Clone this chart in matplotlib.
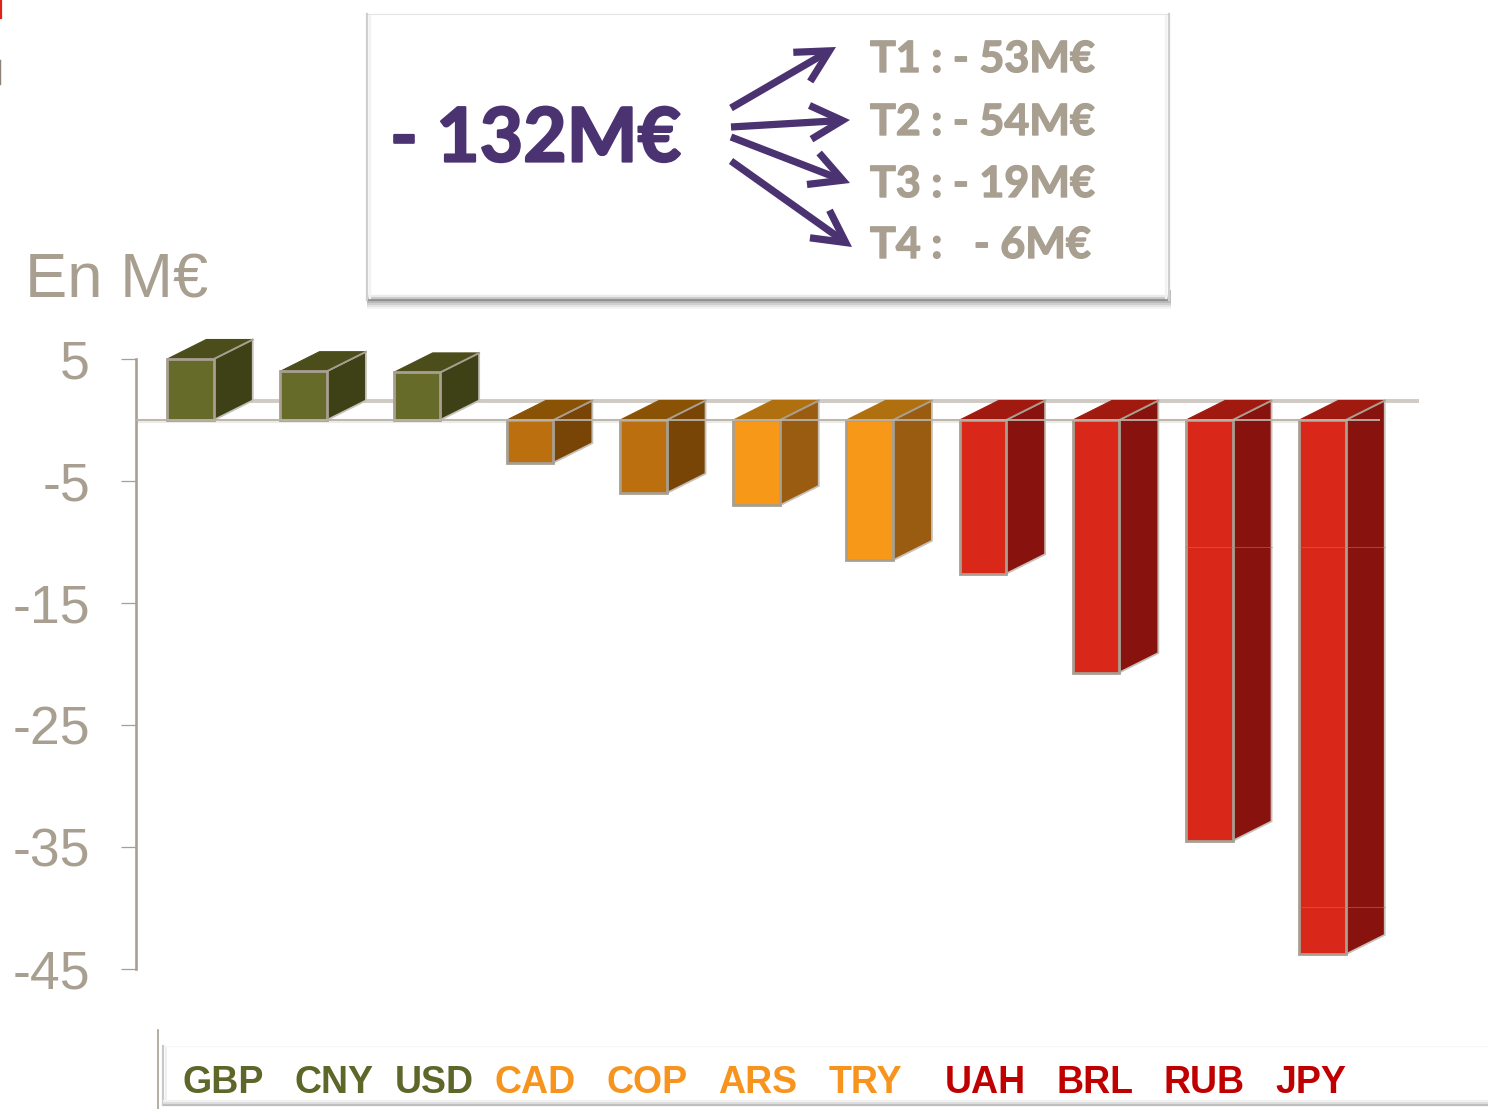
import matplotlib
matplotlib.use('Agg')
import matplotlib.pyplot as plt
import matplotlib.patheffects as pe
from matplotlib.patches import Polygon, Rectangle

W, H = 1488, 1109
DPI = 100

currencies = ['GBP', 'CNY', 'USD', 'CAD', 'COP', 'ARS', 'TRY', 'UAH', 'BRL', 'RUB', 'JPY']
values = [5.0, 4.0, 3.9, -3.5, -6.0, -7.0, -11.5, -12.6, -20.7, -34.5, -43.8]
groups = ['g', 'g', 'g', 'd', 'd', 'o', 'o', 'r', 'r', 'r', 'r']
y_ticks = [5, -5, -15, -25, -35, -45]
y_tick_labels = ['5', '-5', '-15', '-25', '-35', '-45']
total_label = '- 132M€'
quarter_labels = ['T1 : - 53M€', 'T2 : - 54M€', 'T3 : - 19M€', 'T4 :   - 6M€']

GREY = '#A89F91'
PURPLE = '#4B3270'
# front, side, top
palette = {'g': ('#666B2A', '#3E4116', '#4B4D1B'),
           'd': ('#BB6F0E', '#784506', '#8A5205'),
           'o': ('#F79818', '#9A5C10', '#B0700F'),
           'r': ('#D9271A', '#88130E', '#A11A10')}
label_colors = {'g': '#5F662A', 'd': '#F7941D', 'o': '#F7941D', 'r': '#C00000'}
label_x = [223, 333.5, 434, 535, 647, 758, 865, 985, 1095, 1204.5, 1311]

fig = plt.figure(figsize=(W / DPI, H / DPI), dpi=DPI)

# page overlay in pixels, for the box, the arrows and the label strip
page = fig.add_axes([0, 0, 1, 1], zorder=0)
page.set_xlim(0, W)
page.set_ylim(H, 0)
page.axis('off')

# chart axes: 1 unit = 12.2 px, zero at y=420, first bar centre at x=190.5
step = 113.2
top_px, bottom_px = 325, 980
left_px, right_px = 136, 1440
ax = fig.add_axes([left_px / W, 1 - bottom_px / H, (right_px - left_px) / W, (bottom_px - top_px) / H], zorder=2)
ax.patch.set_alpha(0)
ax.set_xlim((left_px - 190.5) / step, (right_px - 190.5) / step)
ax.set_ylim((420 - bottom_px) / 12.2, (420 - top_px) / 12.2)

bar_w = 46.5 / step
dx = 39 / step
dy = 19.5 / 12.2

# back wall and floor lines
ax.plot([0.0, (1419 - 190.5) / step], [dy, dy], color='#CFCAC3', lw=2.8, zorder=1, solid_capstyle='butt')

for i, (v, g) in enumerate(zip(values, groups)):
    front, side, top = palette[g]
    x0, x1 = i - bar_w / 2, i + bar_w / 2
    hi = max(v, 0)
    lo = min(v, 0)
    ax.add_patch(Polygon([(x1, lo), (x1 + dx, lo + dy), (x1 + dx, hi + dy), (x1, hi)], fc=side, ec='#C6C1B8', lw=1.3, zorder=3))
    ax.add_patch(Polygon([(x0, hi), (x0 + dx, hi + dy), (x1 + dx, hi + dy), (x1, hi)], fc=top, ec=top, lw=0.8, zorder=3))
    ax.plot([x1, x1 + dx], [hi, hi + dy], color=GREY, lw=1.3, zorder=4)
    ax.bar(i, v, width=bar_w, color=front, edgecolor=GREY, linewidth=2.0, zorder=4)

ax.plot([(136 - 190.5) / step, (1380 - 190.5) / step], [-0.12, -0.12], color='#EDEBE8', lw=3, zorder=2, solid_capstyle='butt')
ax.plot([(136 - 190.5) / step, (1380 - 190.5) / step], [0, 0], color='#B9B2A7', lw=1.3, zorder=5, solid_capstyle='butt')

# faint gridlines showing through the tallest bars
for yv, bars in [(-10.4, [9, 10]), (-39.9, [10])]:
    for b in bars:
        ax.plot([b - bar_w / 2, b + bar_w / 2 + dx], [yv, yv], color='#E0675C', lw=0.6, alpha=0.6, zorder=6)

for s in ['top', 'right', 'bottom']:
    ax.spines[s].set_visible(False)
ax.spines['left'].set_color(GREY)
ax.spines['left'].set_linewidth(1.9)
ax.spines['left'].set_bounds(-45, 5)
ax.set_xticks([])
ax.set_yticks(y_ticks)
ax.set_yticklabels(y_tick_labels)
ax.tick_params(axis='y', length=11, width=0.9, color=GREY, labelcolor=GREY, pad=22, labelsize=38.5)
for t in ax.get_yticklabels():
    t.set_fontfamily('Liberation Sans')

page.text(25, 281, 'En M€', fontsize=45.5, color=GREY, family='Liberation Sans', va='center', ha='left')

# scraps of the slide cut off at the left edge
page.plot([0.8, 0.8], [0, 18], color='#E0201B', lw=1.6)
page.plot([0.4, 0.4], [60, 84], color='#8E8276', lw=1.0)

# summary box, soft shadow built from stacked bands
for off, alpha in [(9, 0.10), (7, 0.18), (5, 0.28), (3, 0.40)]:
    page.add_patch(Rectangle((367, 290), 804, 10 + off, fc='#9A9A9A', ec='none', alpha=alpha))
page.add_patch(Rectangle((367, 14), 802, 286, fc='white', ec='#E4E4E4', lw=0.8))
for off, col in [(0, '#8F8F8F'), (-2, '#C8C8C8'), (-4, '#EBEBEB')]:
    page.plot([367, 1169], [300 + off, 300 + off], color=col, lw=1.6, solid_capstyle='butt')
page.plot([367, 367], [14, 300], color='#CFCFCF', lw=1.6)
page.plot([370, 370], [16, 298], color='#F2F2F2', lw=1.6)
page.plot([1169, 1169], [14, 300], color='#CFCFCF', lw=1.6)
page.plot([1166, 1166], [16, 298], color='#F2F2F2', lw=1.6)
page.text(390, 140, total_label, fontsize=54, fontweight='bold', family='Lato', color=PURPLE, va='center', ha='left',
          path_effects=[pe.withStroke(linewidth=1.6, foreground=PURPLE)])

arrow_starts = [(731, 108), (731, 127), (731, 137), (731, 161)]
arrow_ends = [(836, 47), (850, 120), (850, 183), (852, 247)]
for st, en in zip(arrow_starts, arrow_ends):
    page.annotate('', xy=en, xytext=st,
                  arrowprops=dict(arrowstyle='->,head_length=0.85,head_width=0.45', color=PURPLE, lw=5.2,
                                  mutation_scale=27, shrinkA=0, shrinkB=0, capstyle='butt', joinstyle='miter'))

for lab, y in zip(quarter_labels, [59, 122, 184, 245]):
    page.text(870, y, lab, fontsize=31, fontweight='bold', family='Lato', color=GREY, va='center', ha='left',
              path_effects=[pe.withStroke(linewidth=1.0, foreground=GREY)])

# currency strip at the bottom, open on the right
page.plot([158, 158], [1030, H], color=GREY, lw=1.2)
page.plot([163, W], [1046, 1046], color='#F7F7F7', lw=0.8)
page.plot([163, 163], [1046, 1105], color='#C9C9C9', lw=1.6)
page.plot([166, 166], [1048, 1103], color='#F0F0F0', lw=1.4)
for off, col in [(0, '#BDBDBD'), (-2, '#DDDDDD'), (-4, '#F1F1F1')]:
    page.plot([163, W], [1105 + off, 1105 + off], color=col, lw=1.6, solid_capstyle='butt')
for cur, g, x in zip(currencies, groups, label_x):
    page.text(x, 1083, cur, fontsize=27, fontweight='bold', family='Liberation Sans', color=label_colors[g], va='center', ha='center')

fig.savefig('out.png', dpi=DPI)
